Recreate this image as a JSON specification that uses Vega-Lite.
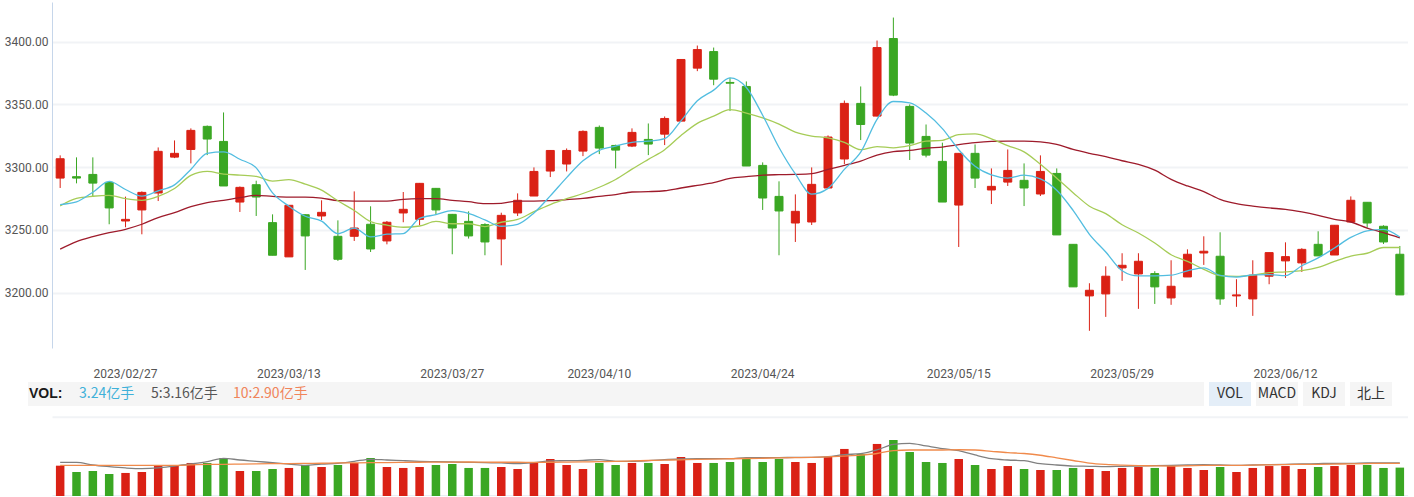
{
  "$schema": "https://vega.github.io/schema/vega-lite/v6.json",
  "background": "white",
  "padding": {"left": 4, "top": 2, "right": 0, "bottom": 0},
  "autosize": {"type": "pad"},
  "config": {"view": {"stroke": null}, "font": "Roboto"},
  "datasets": {
    "k": [
      {"d":"2023/02/21","o":3291.2,"h":3309.3,"l":3283.3,"c":3306.6,"v":3.46,"m5":3270.1,"m10":3269.1,"m60":3234.6,"vm5":3.84,"vm10":3.50},
      {"d":"2023/02/22","o":3292.3,"h":3307.7,"l":3287.0,"c":3291.2,"v":2.74,"m5":3272.2,"m10":3275.0,"m60":3240.6,"vm5":3.84,"vm10":3.50},
      {"d":"2023/02/23","o":3294.1,"h":3307.7,"l":3276.1,"c":3287.2,"v":2.85,"m5":3279.9,"m10":3276.7,"m60":3244.5,"vm5":3.54,"vm10":3.50},
      {"d":"2023/02/24","o":3287.8,"h":3288.2,"l":3254.4,"c":3267.4,"v":2.51,"m5":3288.5,"m10":3277.4,"m60":3247.7,"vm5":3.35,"vm10":3.50},
      {"d":"2023/02/27","o":3257.0,"h":3276.4,"l":3252.0,"c":3258.3,"v":2.63,"m5":3282.1,"m10":3274.8,"m60":3250.4,"vm5":3.20,"vm10":3.50},
      {"d":"2023/02/28","o":3265.8,"h":3280.6,"l":3246.4,"c":3279.8,"v":2.74,"m5":3276.8,"m10":3273.5,"m60":3254.4,"vm5":3.12,"vm10":3.50},
      {"d":"2023/03/01","o":3279.3,"h":3315.6,"l":3272.9,"c":3312.5,"v":3.42,"m5":3281.0,"m10":3276.6,"m60":3259.7,"vm5":3.20,"vm10":3.50},
      {"d":"2023/03/02","o":3307.9,"h":3321.2,"l":3307.1,"c":3310.9,"v":3.54,"m5":3285.8,"m10":3282.9,"m60":3263.6,"vm5":3.42,"vm10":3.50},
      {"d":"2023/03/03","o":3314.0,"h":3330.8,"l":3302.9,"c":3329.2,"v":3.77,"m5":3298.1,"m10":3293.3,"m60":3268.4,"vm5":3.65,"vm10":3.55},
      {"d":"2023/03/06","o":3332.4,"h":3333.1,"l":3309.5,"c":3322.3,"v":3.77,"m5":3310.9,"m10":3296.5,"m60":3271.6,"vm5":3.92,"vm10":3.61},
      {"d":"2023/03/07","o":3320.4,"h":3343.5,"l":3284.9,"c":3284.9,"v":4.34,"m5":3312.0,"m10":3294.4,"m60":3273.5,"vm5":4.30,"vm10":3.62},
      {"d":"2023/03/08","o":3272.1,"h":3284.5,"l":3264.2,"c":3283.8,"v":2.85,"m5":3306.2,"m10":3293.6,"m60":3275.6,"vm5":4.11,"vm10":3.64},
      {"d":"2023/03/09","o":3285.9,"h":3289.1,"l":3261.0,"c":3276.1,"v":2.85,"m5":3299.3,"m10":3292.6,"m60":3277.4,"vm5":3.96,"vm10":3.66},
      {"d":"2023/03/10","o":3255.7,"h":3262.3,"l":3229.7,"c":3229.7,"v":3.08,"m5":3279.4,"m10":3288.8,"m60":3276.6,"vm5":3.80,"vm10":3.69},
      {"d":"2023/03/13","o":3228.4,"h":3269.5,"l":3228.4,"c":3269.5,"v":3.20,"m5":3268.8,"m10":3289.9,"m60":3276.1,"vm5":3.65,"vm10":3.70},
      {"d":"2023/03/14","o":3262.0,"h":3262.3,"l":3218.0,"c":3245.1,"v":3.54,"m5":3260.8,"m10":3286.4,"m60":3276.1,"vm5":3.50,"vm10":3.72},
      {"d":"2023/03/15","o":3261.0,"h":3273.5,"l":3257.8,"c":3263.9,"v":3.31,"m5":3256.9,"m10":3281.6,"m60":3275.3,"vm5":3.65,"vm10":3.74},
      {"d":"2023/03/16","o":3244.8,"h":3257.5,"l":3225.2,"c":3226.5,"v":3.54,"m5":3246.9,"m10":3273.1,"m60":3273.2,"vm5":3.73,"vm10":3.77},
      {"d":"2023/03/17","o":3244.8,"h":3280.6,"l":3241.1,"c":3251.4,"v":3.77,"m5":3251.3,"m10":3265.4,"m60":3272.9,"vm5":3.96,"vm10":3.78},
      {"d":"2023/03/20","o":3254.4,"h":3268.7,"l":3232.3,"c":3234.7,"v":4.34,"m5":3244.3,"m10":3256.6,"m60":3272.9,"vm5":4.19,"vm10":3.80},
      {"d":"2023/03/21","o":3241.1,"h":3257.0,"l":3238.4,"c":3256.0,"v":3.31,"m5":3246.5,"m10":3253.7,"m60":3272.9,"vm5":4.11,"vm10":3.82},
      {"d":"2023/03/22","o":3263.4,"h":3280.1,"l":3256.0,"c":3266.3,"v":3.20,"m5":3247.0,"m10":3252.0,"m60":3274.3,"vm5":4.03,"vm10":3.84},
      {"d":"2023/03/23","o":3258.3,"h":3287.3,"l":3253.6,"c":3287.0,"v":3.31,"m5":3259.1,"m10":3253.0,"m60":3274.8,"vm5":3.96,"vm10":3.85},
      {"d":"2023/03/24","o":3283.0,"h":3283.3,"l":3262.3,"c":3265.8,"v":3.54,"m5":3262.0,"m10":3256.7,"m60":3274.8,"vm5":3.92,"vm10":3.86},
      {"d":"2023/03/27","o":3262.3,"h":3262.6,"l":3230.5,"c":3251.4,"v":3.65,"m5":3265.3,"m10":3254.8,"m60":3273.5,"vm5":3.88,"vm10":3.87},
      {"d":"2023/03/28","o":3256.7,"h":3264.7,"l":3243.0,"c":3245.1,"v":3.20,"m5":3263.1,"m10":3254.8,"m60":3272.4,"vm5":3.84,"vm10":3.88},
      {"d":"2023/03/29","o":3254.1,"h":3255.2,"l":3229.7,"c":3240.3,"v":3.20,"m5":3257.9,"m10":3252.5,"m60":3270.8,"vm5":3.80,"vm10":3.86},
      {"d":"2023/03/30","o":3242.7,"h":3263.6,"l":3221.7,"c":3261.5,"v":3.31,"m5":3252.8,"m10":3256.0,"m60":3271.1,"vm5":3.77,"vm10":3.85},
      {"d":"2023/03/31","o":3263.4,"h":3279.0,"l":3261.0,"c":3273.5,"v":3.08,"m5":3254.4,"m10":3258.2,"m60":3272.9,"vm5":3.69,"vm10":3.85},
      {"d":"2023/04/03","o":3276.9,"h":3299.7,"l":3276.9,"c":3296.5,"v":3.88,"m5":3263.4,"m10":3264.4,"m60":3272.9,"vm5":3.80,"vm10":3.84},
      {"d":"2023/04/04","o":3296.8,"h":3313.4,"l":3292.0,"c":3313.2,"v":4.22,"m5":3277.0,"m10":3270.1,"m60":3273.2,"vm5":4.00,"vm10":3.85},
      {"d":"2023/04/06","o":3302.4,"h":3314.8,"l":3296.5,"c":3313.2,"v":3.54,"m5":3291.6,"m10":3274.8,"m60":3274.0,"vm5":4.03,"vm10":3.87},
      {"d":"2023/04/07","o":3312.7,"h":3329.2,"l":3308.7,"c":3328.4,"v":3.08,"m5":3305.0,"m10":3278.9,"m60":3275.0,"vm5":4.07,"vm10":3.89},
      {"d":"2023/04/10","o":3331.6,"h":3333.1,"l":3310.3,"c":3315.1,"v":3.77,"m5":3313.3,"m10":3283.9,"m60":3276.6,"vm5":4.15,"vm10":3.92},
      {"d":"2023/04/11","o":3317.2,"h":3317.8,"l":3298.9,"c":3313.5,"v":3.54,"m5":3316.7,"m10":3290.1,"m60":3278.0,"vm5":3.96,"vm10":3.95},
      {"d":"2023/04/12","o":3316.7,"h":3330.8,"l":3315.9,"c":3327.6,"v":3.77,"m5":3319.6,"m10":3298.3,"m60":3280.1,"vm5":3.96,"vm10":4.00},
      {"d":"2023/04/13","o":3322.0,"h":3334.7,"l":3309.5,"c":3318.3,"v":3.77,"m5":3320.6,"m10":3306.1,"m60":3280.4,"vm5":4.03,"vm10":4.05},
      {"d":"2023/04/14","o":3326.2,"h":3340.3,"l":3317.5,"c":3338.7,"v":3.65,"m5":3322.6,"m10":3313.8,"m60":3281.1,"vm5":4.15,"vm10":4.10},
      {"d":"2023/04/17","o":3336.6,"h":3385.9,"l":3336.4,"c":3385.7,"v":4.45,"m5":3336.8,"m10":3325.1,"m60":3283.3,"vm5":4.22,"vm10":4.13},
      {"d":"2023/04/18","o":3378.8,"h":3396.8,"l":3376.4,"c":3393.6,"v":3.77,"m5":3352.8,"m10":3334.8,"m60":3285.4,"vm5":4.26,"vm10":4.17},
      {"d":"2023/04/19","o":3392.0,"h":3395.2,"l":3365.2,"c":3370.0,"v":3.77,"m5":3361.3,"m10":3340.5,"m60":3287.5,"vm5":4.26,"vm10":4.21},
      {"d":"2023/04/20","o":3367.4,"h":3371.1,"l":3344.6,"c":3366.8,"v":3.88,"m5":3371.0,"m10":3345.8,"m60":3291.0,"vm5":4.26,"vm10":4.25},
      {"d":"2023/04/21","o":3364.2,"h":3368.2,"l":3300.8,"c":3300.8,"v":4.22,"m5":3363.4,"m10":3343.0,"m60":3292.3,"vm5":4.38,"vm10":4.28},
      {"d":"2023/04/24","o":3301.3,"h":3303.7,"l":3265.8,"c":3275.3,"v":3.88,"m5":3341.3,"m10":3339.1,"m60":3293.6,"vm5":4.38,"vm10":4.31},
      {"d":"2023/04/25","o":3276.6,"h":3288.6,"l":3229.7,"c":3265.0,"v":4.22,"m5":3315.6,"m10":3334.2,"m60":3293.9,"vm5":4.38,"vm10":4.34},
      {"d":"2023/04/26","o":3255.4,"h":3278.2,"l":3240.3,"c":3264.7,"v":3.88,"m5":3294.5,"m10":3327.9,"m60":3294.1,"vm5":4.41,"vm10":4.37},
      {"d":"2023/04/27","o":3256.2,"h":3299.7,"l":3253.8,"c":3286.2,"v":3.77,"m5":3278.4,"m10":3324.7,"m60":3294.7,"vm5":4.41,"vm10":4.40},
      {"d":"2023/04/28","o":3283.3,"h":3325.2,"l":3283.1,"c":3323.9,"v":4.45,"m5":3283.0,"m10":3323.2,"m60":3298.1,"vm5":4.49,"vm10":4.46},
      {"d":"2023/05/04","o":3306.4,"h":3353.0,"l":3302.4,"c":3350.7,"v":5.37,"m5":3298.1,"m10":3319.7,"m60":3301.3,"vm5":4.72,"vm10":4.55},
      {"d":"2023/05/05","o":3350.7,"h":3364.2,"l":3321.5,"c":3333.9,"v":4.79,"m5":3311.9,"m10":3313.8,"m60":3304.8,"vm5":4.83,"vm10":4.66},
      {"d":"2023/05/08","o":3340.6,"h":3400.8,"l":3340.4,"c":3395.2,"v":5.94,"m5":3338.0,"m10":3316.3,"m60":3309.5,"vm5":5.25,"vm10":4.85},
      {"d":"2023/05/09","o":3402.4,"h":3419.1,"l":3356.5,"c":3357.3,"v":6.39,"m5":3352.2,"m10":3315.3,"m60":3312.2,"vm5":5.90,"vm10":5.18},
      {"d":"2023/05/10","o":3348.3,"h":3349.9,"l":3305.6,"c":3319.1,"v":5.02,"m5":3351.2,"m10":3317.1,"m60":3313.2,"vm5":6.01,"vm10":5.25},
      {"d":"2023/05/11","o":3324.4,"h":3333.9,"l":3307.7,"c":3309.5,"v":3.88,"m5":3343.0,"m10":3320.6,"m60":3315.1,"vm5":5.71,"vm10":5.25},
      {"d":"2023/05/12","o":3304.5,"h":3319.4,"l":3272.1,"c":3272.1,"v":3.77,"m5":3330.6,"m10":3321.3,"m60":3315.9,"vm5":5.41,"vm10":5.25},
      {"d":"2023/05/15","o":3269.7,"h":3310.9,"l":3236.3,"c":3310.9,"v":4.22,"m5":3313.8,"m10":3325.9,"m60":3317.8,"vm5":5.18,"vm10":5.28},
      {"d":"2023/05/16","o":3310.9,"h":3318.0,"l":3283.3,"c":3291.2,"v":3.54,"m5":3300.6,"m10":3326.4,"m60":3319.4,"vm5":4.68,"vm10":5.25},
      {"d":"2023/05/17","o":3281.7,"h":3298.9,"l":3270.5,"c":3284.6,"v":3.08,"m5":3293.7,"m10":3322.5,"m60":3320.4,"vm5":4.26,"vm10":5.10},
      {"d":"2023/05/18","o":3288.0,"h":3314.0,"l":3284.9,"c":3297.3,"v":3.42,"m5":3291.2,"m10":3317.1,"m60":3320.7,"vm5":4.11,"vm10":4.95},
      {"d":"2023/05/19","o":3289.4,"h":3302.9,"l":3268.9,"c":3283.3,"v":3.08,"m5":3293.5,"m10":3312.1,"m60":3320.7,"vm5":4.03,"vm10":4.85},
      {"d":"2023/05/22","o":3278.5,"h":3309.3,"l":3276.9,"c":3296.5,"v":2.97,"m5":3290.6,"m10":3302.2,"m60":3320.1,"vm5":3.69,"vm10":4.65},
      {"d":"2023/05/23","o":3294.9,"h":3298.9,"l":3245.9,"c":3245.9,"v":2.97,"m5":3281.5,"m10":3291.1,"m60":3318.0,"vm5":3.54,"vm10":4.35},
      {"d":"2023/05/24","o":3238.4,"h":3238.4,"l":3204.5,"c":3204.5,"v":3.20,"m5":3265.5,"m10":3279.6,"m60":3314.0,"vm5":3.42,"vm10":4.05},
      {"d":"2023/05/25","o":3197.3,"h":3207.4,"l":3169.5,"c":3201.8,"v":3.08,"m5":3246.4,"m10":3268.8,"m60":3310.9,"vm5":3.39,"vm10":3.75},
      {"d":"2023/05/26","o":3198.9,"h":3220.9,"l":3180.6,"c":3213.0,"v":2.85,"m5":3232.3,"m10":3262.9,"m60":3308.2,"vm5":3.35,"vm10":3.60},
      {"d":"2023/05/29","o":3219.6,"h":3231.3,"l":3209.3,"c":3221.7,"v":3.20,"m5":3217.4,"m10":3254.0,"m60":3305.0,"vm5":3.39,"vm10":3.52},
      {"d":"2023/05/30","o":3214.8,"h":3231.3,"l":3187.0,"c":3224.9,"v":3.31,"m5":3213.2,"m10":3247.4,"m60":3302.1,"vm5":3.42,"vm10":3.47},
      {"d":"2023/05/31","o":3215.1,"h":3217.0,"l":3190.9,"c":3204.5,"v":3.20,"m5":3213.2,"m10":3239.4,"m60":3297.5,"vm5":3.46,"vm10":3.44},
      {"d":"2023/06/01","o":3195.7,"h":3225.7,"l":3190.2,"c":3205.0,"v":3.42,"m5":3213.8,"m10":3230.1,"m60":3290.2,"vm5":3.50,"vm10":3.42},
      {"d":"2023/06/02","o":3212.4,"h":3234.4,"l":3212.4,"c":3230.5,"v":3.20,"m5":3217.3,"m10":3224.8,"m60":3284.9,"vm5":3.54,"vm10":3.45},
      {"d":"2023/06/05","o":3231.5,"h":3244.8,"l":3222.0,"c":3232.9,"v":2.97,"m5":3219.6,"m10":3218.5,"m60":3280.4,"vm5":3.58,"vm10":3.49},
      {"d":"2023/06/06","o":3228.9,"h":3248.0,"l":3190.2,"c":3194.9,"v":3.31,"m5":3213.6,"m10":3213.4,"m60":3274.3,"vm5":3.54,"vm10":3.50},
      {"d":"2023/06/07","o":3197.3,"h":3210.6,"l":3188.6,"c":3198.1,"v":2.74,"m5":3212.3,"m10":3212.8,"m60":3270.8,"vm5":3.50,"vm10":3.50},
      {"d":"2023/06/08","o":3194.9,"h":3225.7,"l":3181.4,"c":3213.8,"v":3.20,"m5":3214.0,"m10":3213.9,"m60":3268.9,"vm5":3.54,"vm10":3.52},
      {"d":"2023/06/09","o":3213.0,"h":3231.8,"l":3206.6,"c":3231.8,"v":3.42,"m5":3214.3,"m10":3215.8,"m60":3267.4,"vm5":3.58,"vm10":3.56},
      {"d":"2023/06/12","o":3225.2,"h":3240.0,"l":3211.6,"c":3228.6,"v":3.42,"m5":3213.4,"m10":3216.5,"m60":3266.3,"vm5":3.61,"vm10":3.59},
      {"d":"2023/06/13","o":3223.6,"h":3235.3,"l":3216.4,"c":3234.4,"v":3.08,"m5":3221.3,"m10":3217.5,"m60":3264.2,"vm5":3.65,"vm10":3.61},
      {"d":"2023/06/14","o":3238.4,"h":3248.8,"l":3229.2,"c":3229.2,"v":3.31,"m5":3227.6,"m10":3220.0,"m60":3261.5,"vm5":3.69,"vm10":3.62},
      {"d":"2023/06/15","o":3229.9,"h":3253.6,"l":3229.9,"c":3253.6,"v":3.42,"m5":3235.5,"m10":3224.8,"m60":3258.3,"vm5":3.73,"vm10":3.64},
      {"d":"2023/06/16","o":3256.2,"h":3276.6,"l":3256.2,"c":3273.5,"v":3.54,"m5":3243.9,"m10":3229.1,"m60":3256.2,"vm5":3.73,"vm10":3.67},
      {"d":"2023/06/19","o":3271.9,"h":3271.9,"l":3251.7,"c":3255.4,"v":3.54,"m5":3249.2,"m10":3231.3,"m60":3251.4,"vm5":3.77,"vm10":3.70},
      {"d":"2023/06/20","o":3252.8,"h":3253.6,"l":3238.7,"c":3240.3,"v":3.20,"m5":3250.4,"m10":3235.9,"m60":3247.7,"vm5":3.77,"vm10":3.73},
      {"d":"2023/06/21","o":3230.5,"h":3237.1,"l":3198.1,"c":3198.1,"v":3.24,"m5":3244.2,"m10":3235.9,"m60":3243.5,"vm5":3.77,"vm10":3.73}
    ],
    "bg": [
      {"name":"strip","x0":-24,"x1":1152},
      {"name":"VOL","x0":1157,"x1":1199},
      {"name":"MACD","x0":1204,"x1":1246},
      {"name":"KDJ","x0":1251,"x1":1293},
      {"name":"北上","x0":1298,"x1":1340}
    ],
    "voltitle": [
      {"label":"VOL:","x":-23}
    ],
    "legtext": [
      {"name":"t1","label":"3.24亿手","x":27},
      {"name":"t2","label":"5:3.16亿手","x":99},
      {"name":"t3","label":"10:2.90亿手","x":181}
    ],
    "btntext": [
      {"label":"VOL","x":1178},
      {"label":"MACD","x":1225},
      {"label":"KDJ","x":1272},
      {"label":"北上","x":1319}
    ]
  },
  "bounds": "flush",
  "spacing": 34,
  "vconcat": [
    {
      "width": 1356,
      "height": 346,
      "data": {"name": "k"},
      "encoding": {
        "x": {
          "field": "d", "type": "ordinal", "sort": null,
          "scale": {"paddingInner": 0, "paddingOuter": 0},
          "axis": {
            "values": ["2023/02/27","2023/03/13","2023/03/27","2023/04/10","2023/04/24","2023/05/15","2023/05/29","2023/06/12"],
            "labelAngle": 0, "title": null, "ticks": false, "domain": false, "grid": false,
            "labelPadding": 20, "labelFontSize": 12, "labelColor": "#555555", "labelFont": "Roboto"
          }
        }
      },
      "layer": [
        {
          "mark": {"type": "rule", "strokeWidth": 1},
          "encoding": {
            "y": {
              "field": "l", "type": "quantitative",
              "scale": {"domain": [3155.8, 3431.5], "nice": false, "zero": false},
              "axis": {
                "values": [3200, 3250, 3300, 3350, 3400], "format": ".2f", "title": null,
                "ticks": false, "domainColor": "#c6d6ea", "gridColor": "#f1f3f6", "gridWidth": 2,
                "labelColor": "#555555", "labelFontSize": 12, "labelFont": "Roboto", "labelPadding": 4
              }
            },
            "y2": {"field": "h"},
            "color": {"condition": {"test": "datum.c >= datum.o", "value": "#da2115"}, "value": "#3aa723"}
          }
        },
        {
          "mark": {"type": "bar", "size": 8, "strokeWidth": 1},
          "encoding": {
            "y": {"field": "o", "type": "quantitative"},
            "y2": {"field": "c"},
            "color": {"condition": {"test": "datum.c >= datum.o", "value": "#da2115"}, "value": "#3aa723"},
            "stroke": {"condition": {"test": "datum.c >= datum.o", "value": "#da2115"}, "value": "#3aa723"}
          }
        },
        {
          "mark": {"type": "line", "interpolate": "monotone", "color": "#9e1b2b", "strokeWidth": 1.3},
          "encoding": {"y": {"field": "m60", "type": "quantitative"}}
        },
        {
          "mark": {"type": "line", "interpolate": "monotone", "color": "#a6cc57", "strokeWidth": 1.3},
          "encoding": {"y": {"field": "m10", "type": "quantitative"}}
        },
        {
          "mark": {"type": "line", "interpolate": "monotone", "color": "#52bde0", "strokeWidth": 1.3},
          "encoding": {"y": {"field": "m5", "type": "quantitative"}}
        }
      ]
    },
    {
      "bounds": "flush",
      "spacing": 10.7,
      "vconcat": [
        {
          "width": 1356,
          "height": 24,
          "layer": [
            {
              "data": {"name": "bg"},
              "mark": {"type": "rect"},
              "encoding": {
                "x": {"field": "x0", "type": "quantitative", "scale": {"domain": [0, 1356], "nice": false, "zero": false}, "axis": null},
                "x2": {"field": "x1"},
                "color": {
                  "field": "name", "type": "nominal", "legend": null,
                  "scale": {"domain": ["strip","VOL","MACD","KDJ","北上"], "range": ["#f5f5f5","#e4eef8","#f5f5f5","#f5f5f5","#f5f5f5"]}
                }
              }
            },
            {
              "data": {"name": "voltitle"},
              "mark": {"type": "text", "align": "left", "baseline": "middle", "fontSize": 14, "font": "Liberation Sans", "fontWeight": "bold", "color": "#1a1a1a"},
              "encoding": {
                "x": {"field": "x", "type": "quantitative"},
                "text": {"field": "label"}
              }
            },
            {
              "data": {"name": "legtext"},
              "mark": {"type": "text", "align": "left", "baseline": "middle", "fontSize": 14, "font": "Noto Sans CJK SC"},
              "encoding": {
                "x": {"field": "x", "type": "quantitative"},
                "text": {"field": "label"},
                "color": {
                  "field": "name", "type": "nominal", "legend": null,
                  "scale": {"domain": ["t1","t2","t3"], "range": ["#3fb1d9","#555555","#f0845a"]}
                }
              }
            },
            {
              "data": {"name": "btntext"},
              "mark": {"type": "text", "align": "center", "baseline": "middle", "fontSize": 14, "font": "Noto Sans CJK SC", "color": "#333333"},
              "encoding": {
                "x": {"field": "x", "type": "quantitative"},
                "text": {"field": "label"}
              }
            }
          ],
          "resolve": {"scale": {"color": "independent"}}
        },
        {
          "width": 1356,
          "height": 79.3,
          "data": {"name": "k"},
          "encoding": {
            "x": {
              "field": "d", "type": "ordinal", "sort": null,
              "scale": {"paddingInner": 0, "paddingOuter": 0},
              "axis": {"labels": false, "ticks": false, "title": null, "grid": false, "domainColor": "#c6d6ea", "domainWidth": 1.5}
            }
          },
          "layer": [
            {
              "mark": {"type": "bar", "size": 8.5},
              "encoding": {
                "y": {
                  "field": "v", "type": "quantitative",
                  "scale": {"domain": [0, 9.05], "nice": false},
                  "axis": {"values": [0, 2.2625, 4.525, 6.7875, 9.05], "labels": false, "ticks": false, "domain": false, "title": null, "gridColor": "#f1f3f6", "gridWidth": 2}
                },
                "color": {"condition": {"test": "datum.c >= datum.o", "value": "#da2115"}, "value": "#3aa723"}
              }
            },
            {
              "mark": {"type": "line", "interpolate": "monotone", "color": "#808080", "strokeWidth": 1.3},
              "encoding": {"y": {"field": "vm5", "type": "quantitative"}}
            },
            {
              "mark": {"type": "line", "interpolate": "monotone", "color": "#f08a4b", "strokeWidth": 1.3},
              "encoding": {"y": {"field": "vm10", "type": "quantitative"}}
            }
          ]
        }
      ]
    }
  ]
}
